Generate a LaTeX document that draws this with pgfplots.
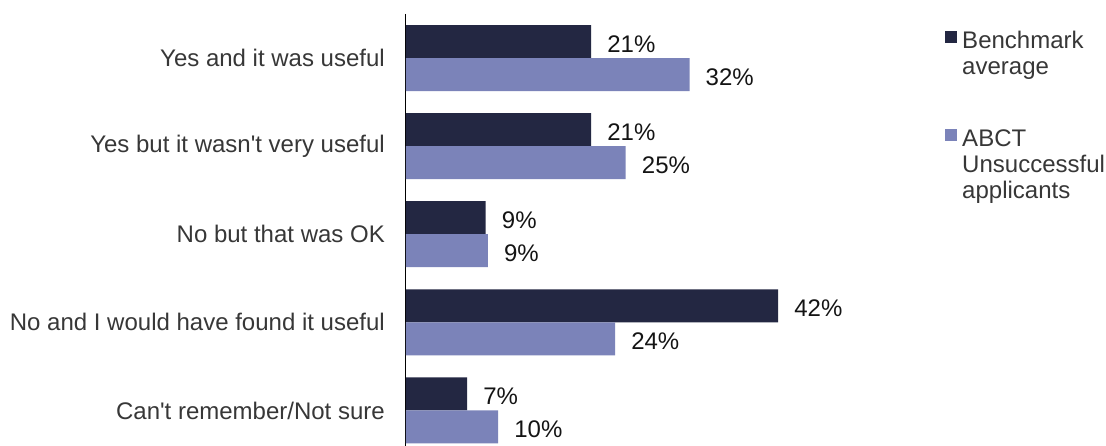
\documentclass[border=0pt]{standalone}
\usepackage{pgfplots}
\pgfplotsset{compat=1.18}
\usepackage{fontspec}
\setmainfont{Liberation Sans}
\definecolor{bench}{RGB}{35,39,66}
\definecolor{abct}{RGB}{123,131,185}
\definecolor{txt}{RGB}{55,55,55}
\definecolor{num}{RGB}{20,20,20}
\begin{document}
\begin{tikzpicture}[x=1pt,y=1pt]
\useasboundingbox (0,0) rectangle (1106,446);
\begin{axis}[
  at={(406pt,-8.5pt)}, anchor=south west,
  scale only axis, width=531.6pt, height=440.5pt,
  xbar, bar width=33pt,
  xmin=0, xmax=60, ymin=-0.5, ymax=4.5,
  y dir=reverse,
  axis x line=none,
  axis y line*=left,
  y axis line style={black, line width=1pt},
  ytick={0,1,2,3,4},
  yticklabels={Yes and it was useful,Yes but it wasn\textquotesingle t very useful,No but that was OK,No and I would have found it useful,Can\textquotesingle t remember/Not sure},
  major tick length=0pt,
  yticklabel style={font=\fontsize{24}{28}\selectfont, text=txt, inner sep=0pt, xshift=-21pt},
  point meta=explicit symbolic,
  nodes near coords={\pgfplotspointmeta\%},
  nodes near coords style={font=\fontsize{24}{28}\selectfont, text=num, anchor=west, inner sep=0pt, xshift=16pt, yshift=-2.5pt},
  legend style={at={(1.014,0.966)}, anchor=north west, draw=none, inner sep=0pt,
    font=\fontsize{24}{26}\selectfont, text=txt, cells={anchor=north west, align=left},
    row sep=49pt, column sep=3pt},
  legend image code/.code={\fill[#1] (0pt,-14pt) rectangle (12pt,-2pt);},
]
\addplot[draw=none, fill=bench, bar shift=16.5pt] coordinates {(20.9,0) [21] (20.9,1) [21] (9.0,2) [9] (42.0,3) [42] (6.9,4) [7]};
\addplot[draw=none, fill=abct, bar shift=-16.5pt] coordinates {(32.0,0) [32] (24.8,1) [25] (9.25,2) [9] (23.6,3) [24] (10.4,4) [10]};
\legend{Benchmark\\average, ABCT\\Unsuccessful\\applicants}
\end{axis}
\end{tikzpicture}
\end{document}
